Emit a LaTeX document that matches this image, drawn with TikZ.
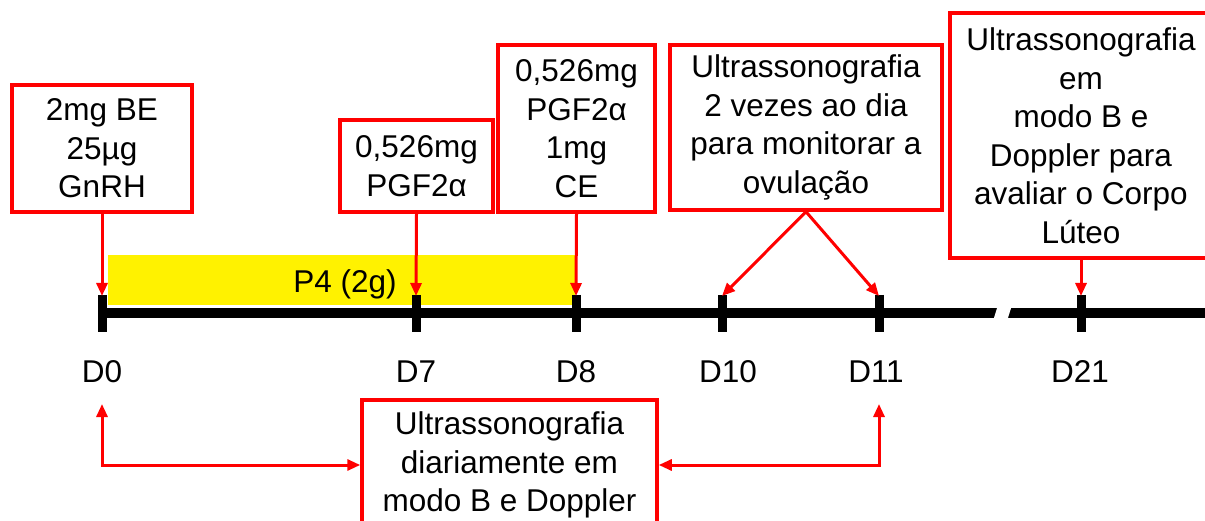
\documentclass[tikz,border=0pt]{standalone}
\usepackage{fontspec}
\setmainfont{Liberation Sans}
\usetikzlibrary{arrows.meta}
\begin{document}
\begin{tikzpicture}[x=1pt,y=-1pt,
  txt/.style={font=\fontsize{31.5}{38.5}\selectfont},
  rbox/.style={draw=red, line width=3.5pt, fill=white, align=center, inner sep=0pt, txt},
  arr/.style={draw=red, line width=3pt, -{Triangle[length=13pt,width=11pt]}},
  darr/.style={draw=red, line width=3pt, {Triangle[length=13pt,width=11pt]}-{Triangle[length=13pt,width=11pt]}},
  tick/.style={draw=black, line width=9pt}]
\useasboundingbox (0,0) rectangle (1205,521);
\clip (0,0) rectangle (1205,521);
% yellow P4 bar
\node[fill=yellow, minimum width=467pt, minimum height=50pt, inner sep=0pt] (p4) at (341.5,280) {};
\node[txt] (p4l) at (345,284) {P4 (2g)};
% timeline
\draw[line width=10pt] (102,313) -- (1210,313);
\fill[white] (993,321) -- (998,305) -- (1012,305) -- (1007,321) -- cycle;
% ticks
\coordinate (t0) at (102,296); \coordinate (t7) at (416,296); \coordinate (t8) at (576,296);
\coordinate (t10) at (722,296); \coordinate (t11) at (879,296); \coordinate (t21) at (1081,296);
\foreach \x in {102,416,576,722,879,1081,1209} \draw[tick] (\x,295) -- (\x,332);
% day labels
\node[txt] (d0) at (102,372) {D0};
\node[txt] (d7) at (416,372) {D7};
\node[txt] (d8) at (576,372) {D8};
\node[txt] (d10) at (728,372) {D10};
\node[txt] (d11) at (876,372) {D11};
\node[txt] (d21) at (1080,372) {D21};
% boxes
\node[rbox, minimum width=180pt, minimum height=127pt] (b1) at (102,148.5) {2mg BE\\25µg\\GnRH};
\node[rbox, minimum width=153pt, minimum height=92pt] (b2) at (416.5,166) {0,526mg\\PGF2α};
\node[rbox, minimum width=157pt, minimum height=167pt] (b3) at (576.5,128.5) {0,526mg\\PGF2α\\1mg\\CE};
\node[rbox, minimum width=272pt, minimum height=165pt] (b4) at (806,127.5) {Ultrassonografia\\2 vezes ao dia\\para monitorar a\\ovulação};
\node[rbox, minimum width=262pt, minimum height=245pt] (b5) at (1081,135.5) {Ultrassonografia\\em\\modo B e\\Doppler para\\avaliar o Corpo\\Lúteo};
\node[rbox, minimum width=295pt, minimum height=130pt] (b6) at (509.5,465) {Ultrassonografia\\diariamente em\\modo B e Doppler};
% arrows
\draw[arr] (b1.south -| t0) -- (t0);
\draw[arr] (b2.south) -- (t7);
\draw[arr] (b3.south) -- (t8);
\draw[arr] (b4.south) -- (t10);
\draw[arr] (b4.south) -- (t11);
\draw[arr] (b5.south -| t21) -- (t21);
\coordinate (u0) at (102,404);
\coordinate (u11) at (879,404);
\draw[darr] (u0) |- (b6.west);
\draw[darr] (u11) |- (b6.east);
\end{tikzpicture}
\end{document}
